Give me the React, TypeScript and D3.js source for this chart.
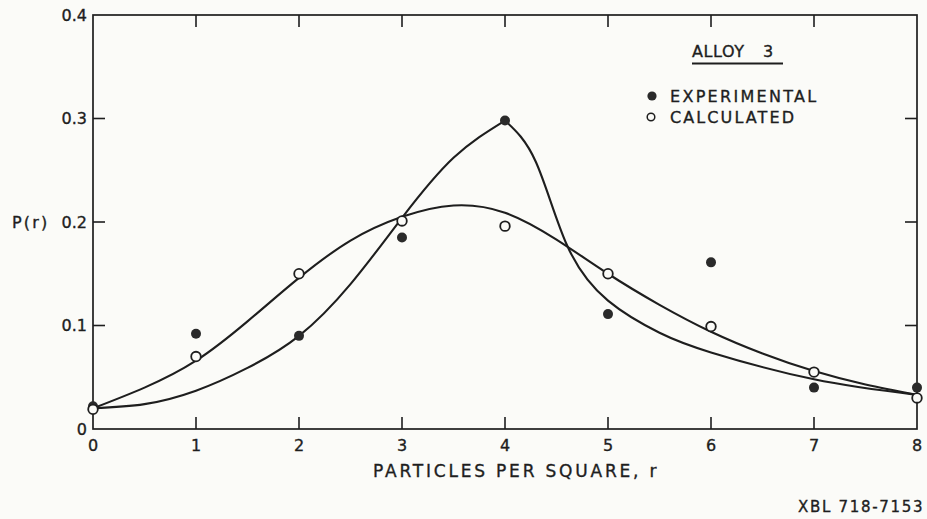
import React from "react";
import * as d3 from "d3";

// Particle counts per square and the measured / computed probabilities
const particles = [0, 1, 2, 3, 4, 5, 6, 7, 8];
const experimental = [0.022, 0.092, 0.09, 0.185, 0.298, 0.111, 0.161, 0.04, 0.04];
const calculated = [0.019, 0.07, 0.15, 0.201, 0.196, 0.15, 0.099, 0.055, 0.03];

// Smooth curve through the calculated distribution
const calcCurveR = [0, 0.5, 1, 1.5, 2, 2.5, 3, 3.5, 4, 4.5, 5, 5.5, 6, 6.5, 7, 7.5, 8];
const calcCurveP = [0.02, 0.04, 0.066, 0.104, 0.146, 0.182, 0.205, 0.216, 0.209, 0.183, 0.15, 0.12, 0.094, 0.073, 0.056, 0.043, 0.033];

// Experimental curve: rising branch up to the peak at r = 4, then falling branch
const expRiseR = [0, 0.5, 1, 1.5, 2, 2.5, 3, 3.5, 4];
const expRiseP = [0.02, 0.024, 0.037, 0.059, 0.09, 0.14, 0.204, 0.262, 0.298];
const expFallR = [4, 4.3, 4.6, 5, 5.5, 6, 7, 8];
const expFallP = [0.298, 0.258, 0.178, 0.124, 0.093, 0.074, 0.048, 0.033];

const xTicks = [0, 1, 2, 3, 4, 5, 6, 7, 8];
const xTickLabels = ["0", "1", "2", "3", "4", "5", "6", "7", "8"];
const yTicks = [0, 0.1, 0.2, 0.3, 0.4];
const yTickLabels = ["0", "0.1", "0.2", "0.3", "0.4"];

const W = 927;
const H = 519;
const ink = "#1e1e1e";
const paper = "#fbfbf8";
const font = "'DejaVu Sans', 'Liberation Sans', sans-serif";

// lettering is a touch heavier than the plain font weight
const letter = { fill: ink, stroke: ink, strokeWidth: 0.35 };

export default function App() {
  const x = d3.scaleLinear().domain([0, 8]).range([93, 917]);
  const y = d3.scaleLinear().domain([0, 0.4]).range([429, 15]);

  const smooth = d3
    .line<[number, number]>()
    .x((d) => x(d[0]))
    .y((d) => y(d[1]))
    .curve(d3.curveNatural);

  const zip = (a: number[], b: number[]) => a.map((v, i) => [v, b[i]] as [number, number]);

  const tick = 12;
  const x0 = x(0), x1 = x(8), yTop = y(0.4), yBot = y(0);

  return (
    <svg
      width={W}
      height={H}
      style={{ position: "absolute", left: 0, top: 0, background: paper }}
      fontFamily={font}
    >
      <rect x={0} y={0} width={W} height={H} fill={paper} />

      {/* frame */}
      <rect x={x0} y={yTop} width={x1 - x0} height={yBot - yTop} fill="none" stroke={ink} strokeWidth={1.7} />

      {/* inward ticks on all four sides */}
      {xTicks.slice(1, -1).map((t) => (
        <g key={"xt" + t}>
          <line x1={x(t)} x2={x(t)} y1={yBot} y2={yBot - tick} stroke={ink} strokeWidth={1.6} />
          <line x1={x(t)} x2={x(t)} y1={yTop} y2={yTop + tick} stroke={ink} strokeWidth={1.6} />
        </g>
      ))}
      {yTicks.slice(1, -1).map((t) => (
        <g key={"yt" + t}>
          <line x1={x0} x2={x0 + tick} y1={y(t)} y2={y(t)} stroke={ink} strokeWidth={1.6} />
          <line x1={x1} x2={x1 - tick} y1={y(t)} y2={y(t)} stroke={ink} strokeWidth={1.6} />
        </g>
      ))}

      {/* tick labels */}
      {xTicks.map((t, i) => (
        <text key={"xl" + t} x={x(t)} y={451} textAnchor="middle" fontSize={16} {...letter}>
          {xTickLabels[i]}
        </text>
      ))}
      {yTicks.map((t, i) => (
        <text key={"yl" + t} x={87} y={y(t)} dy="0.36em" textAnchor="end" fontSize={16} {...letter}>
          {yTickLabels[i]}
        </text>
      ))}

      {/* axis titles */}
      <text x={12} y={y(0.2)} dy="0.36em" fontSize={16} letterSpacing={2.2} {...letter}>
        P(r)
      </text>
      <text x={373} y={477} fontSize={17} letterSpacing={2.8} {...letter}>
        PARTICLES PER SQUARE, r
      </text>
      <text x={798} y={512} fontSize={15} letterSpacing={1.7} {...letter}>
        XBL 718-7153
      </text>

      {/* fitted curves */}
      <path d={smooth(zip(calcCurveR, calcCurveP)) || ""} fill="none" stroke={ink} strokeWidth={2.1} />
      <path d={smooth(zip(expRiseR, expRiseP)) || ""} fill="none" stroke={ink} strokeWidth={2.1} />
      <path d={smooth(zip(expFallR, expFallP)) || ""} fill="none" stroke={ink} strokeWidth={2.1} />

      {/* data points */}
      {particles.map((r, i) => (
        <circle key={"e" + r} cx={x(r)} cy={y(experimental[i])} r={5} fill="#2a2a2a" />
      ))}
      {particles.map((r, i) => (
        <circle key={"c" + r} cx={x(r)} cy={y(calculated[i])} r={4.8} fill={paper} stroke={ink} strokeWidth={1.8} />
      ))}

      {/* legend */}
      <text x={692} y={57} fontSize={16} letterSpacing={0.6} {...letter}>
        ALLOY
      </text>
      <text x={763} y={57} fontSize={16} {...letter}>
        3
      </text>
      <line x1={692} x2={783} y1={63.5} y2={63.5} stroke={ink} strokeWidth={1.9} />
      <circle cx={652} cy={96} r={4.6} fill="#2a2a2a" />
      <text x={670} y={102} fontSize={16} letterSpacing={2.3} {...letter}>
        EXPERIMENTAL
      </text>
      <circle cx={651} cy={117} r={3.8} fill={paper} stroke={ink} strokeWidth={1.5} />
      <text x={670} y={123} fontSize={16} letterSpacing={2.1} {...letter}>
        CALCULATED
      </text>
    </svg>
  );
}
